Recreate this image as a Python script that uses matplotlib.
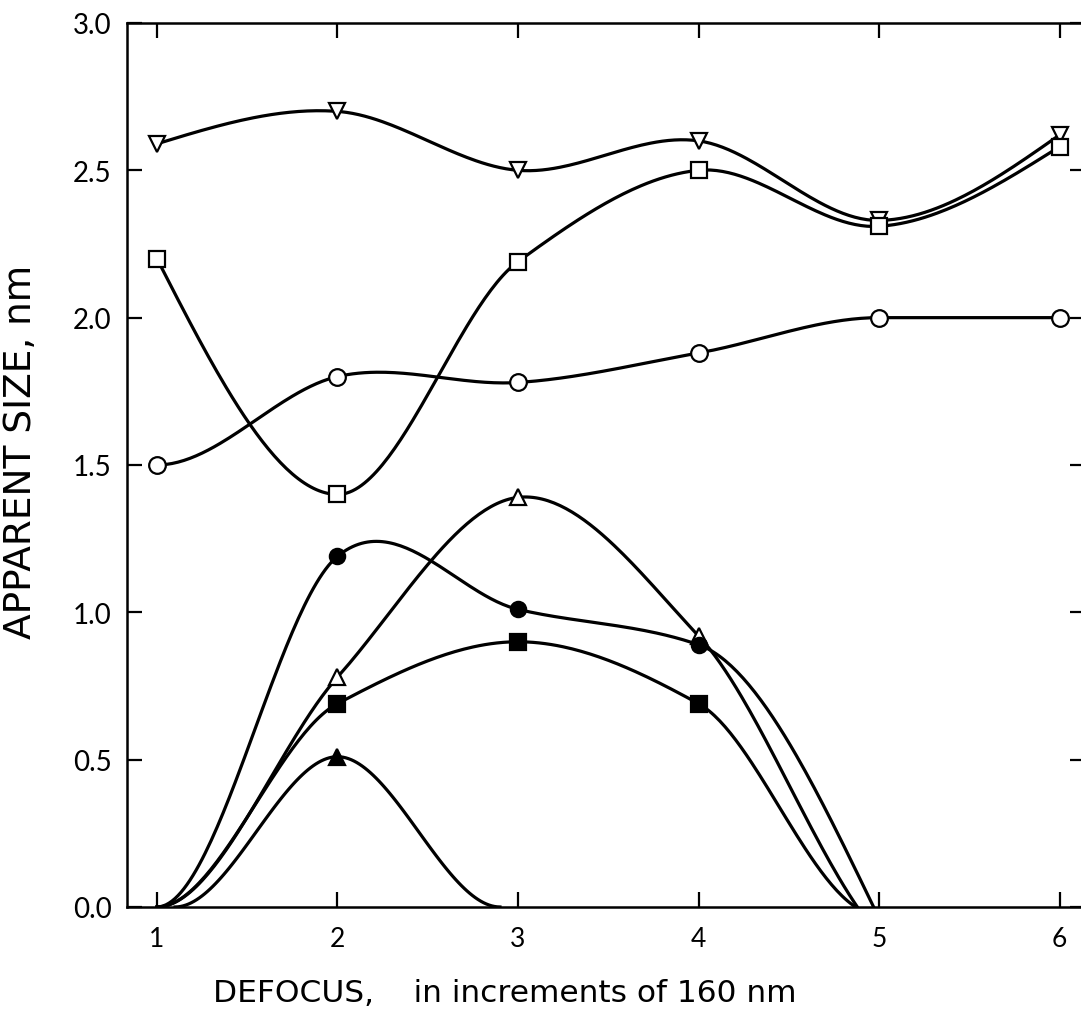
import matplotlib
matplotlib.use('Agg')
import matplotlib.pyplot as plt
import numpy as np

plt.rcParams['font.family'] = ['Lato', 'DejaVu Sans']

# measured sizes, nm, at each defocus step
defocus = [1, 2, 3, 4, 5, 6]
size_dtri = [2.59, 2.70, 2.50, 2.60, 2.33, 2.62]
size_osq = [2.20, 1.40, 2.19, 2.50, 2.31, 2.58]
size_ocirc = [1.50, 1.80, 1.78, 1.88, 2.00, 2.00]

defocus_mid = [2, 3, 4]
size_otri = [0.78, 1.39, 0.92]
size_fcirc = [1.19, 1.01, 0.89]
size_fsq = [0.69, 0.90, 0.69]

defocus_ftri = [2]
size_ftri = [0.51]

# defocus values where the lower curves leave and return to zero
otri_ends = (1.0, 4.88)
fcirc_ends = (1.0, 4.97)
fsq_ends = (1.0, 4.87)
ftri_ends = (1.10, 2.90)


def smooth(xs, ys, start=None, end=None, n=60):
    """Hermite curve through the points.

    Tangents follow Catmull-Rom at turning points and a harmonic mean of
    the neighbouring secants elsewhere, so monotone runs do not wobble.
    Free ends get a zero-curvature tangent unless a slope is given.
    """
    xs = np.asarray(xs, float)
    ys = np.asarray(ys, float)
    k = len(xs)
    h = np.diff(xs)
    d = np.diff(ys) / h
    m = np.zeros(k)
    for i in range(1, k - 1):
        a, b = d[i - 1], d[i]
        if a * b > 0:
            w1, w2 = 2 * h[i] + h[i - 1], h[i] + 2 * h[i - 1]
            m[i] = (w1 + w2) / (w1 / a + w2 / b)
        elif a == 0 or b == 0:
            m[i] = 0.0
        else:
            m[i] = (ys[i + 1] - ys[i - 1]) / (xs[i + 1] - xs[i - 1])
    m[0] = start if start is not None else 1.5 * d[0] - 0.5 * m[1]
    m[-1] = end if end is not None else 1.5 * d[-1] - 0.5 * m[-2]
    px, py = [], []
    for i in range(k - 1):
        t = np.linspace(0, 1, n, endpoint=(i == k - 2))
        h00 = 2 * t ** 3 - 3 * t ** 2 + 1
        h10 = t ** 3 - 2 * t ** 2 + t
        h01 = -2 * t ** 3 + 3 * t ** 2
        h11 = t ** 3 - t ** 2
        px.append(xs[i] + t * h[i])
        py.append(h00 * ys[i] + h10 * h[i] * m[i]
                  + h01 * ys[i + 1] + h11 * h[i] * m[i + 1])
    return np.concatenate(px), np.concatenate(py)


fig = plt.figure(figsize=(10.81, 10.12), dpi=100)
ax = fig.add_axes([0.1175, 0.1028, 0.886, 0.8735])

lw = 2.3
ms = 12

# upper group: smooth curves through all six steps
upper = [
    (size_dtri, 'v', None),
    (size_osq, 's', None),
    (size_ocirc, 'o', 0.0),
]
for vals, mk, s0 in upper:
    xx, yy = smooth(defocus, vals, start=s0)
    ax.plot(xx, yy, color='black', lw=lw, zorder=2)
    ax.plot(defocus, vals, ls='none', marker=mk, ms=ms, mfc='white',
            mec='black', mew=1.6, zorder=3, clip_on=False)

# lower group: curves rise from zero and fall back to zero
lower = [
    (defocus_mid, size_otri, otri_ends, '^', 'white', -0.9),
    (defocus_mid, size_fcirc, fcirc_ends, 'o', 'black', None),
    (defocus_mid, size_fsq, fsq_ends, 's', 'black', -0.4),
    (defocus_ftri, size_ftri, ftri_ends, '^', 'black', 0.0),
]
for xs, vals, ends, mk, fc, s1 in lower:
    cx = [ends[0]] + list(xs) + [ends[1]]
    cy = [0.0] + list(vals) + [0.0]
    xx, yy = smooth(cx, cy, start=0.0, end=s1)
    ax.plot(xx, np.clip(yy, 0, None), color='black', lw=lw, zorder=2)
    ax.plot(xs, vals, ls='none', marker=mk, ms=ms - 1, mfc=fc,
            mec='black', mew=1.6, zorder=3)

ax.set_xlim(0.834, 6.14)
ax.set_ylim(0, 3.0)
ax.set_xticks(defocus)
ax.set_yticks(np.arange(0, 3.01, 0.5))
ax.set_yticklabels([f'{v:.1f}' for v in np.arange(0, 3.01, 0.5)])

for side in ['left', 'bottom', 'top', 'right']:
    ax.spines[side].set_linewidth(1.8)
ax.tick_params(axis='both', direction='in', length=11, width=1.6,
               top=True, right=True)
ax.tick_params(axis='x', labelsize=19, pad=14)
ax.tick_params(axis='y', labelsize=20, pad=11)

fig.text(0.019, 0.553, 'APPARENT SIZE, nm', rotation=90, ha='center',
         va='center', fontsize=27, family='DejaVu Sans')
fig.text(0.467, 0.0099, 'DEFOCUS,    in increments of 160 nm', ha='center',
         va='baseline', fontsize=22.5, family='DejaVu Sans')

fig.savefig('out.png', dpi=100, facecolor='white')
